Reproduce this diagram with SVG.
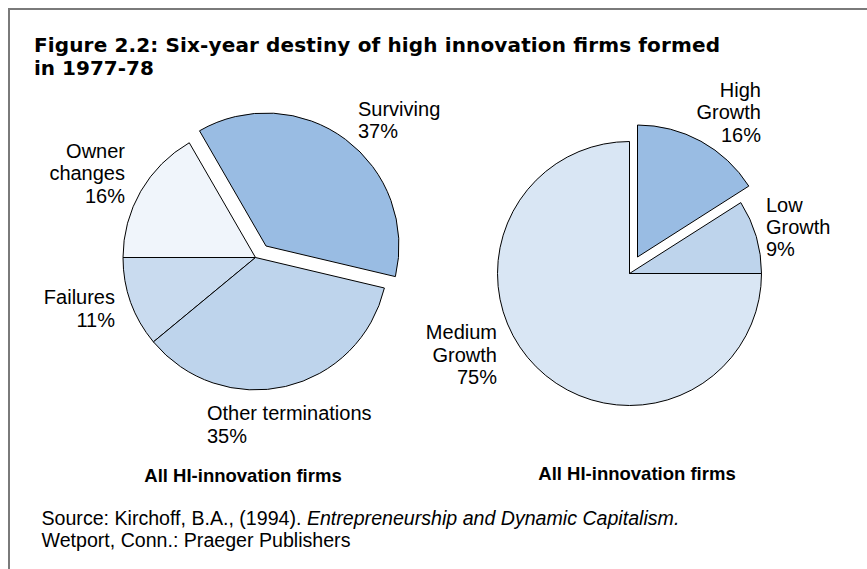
<svg xmlns="http://www.w3.org/2000/svg" width="867" height="569" viewBox="0 0 867 569">
<style>
.slice{stroke:#000;stroke-width:1;stroke-linejoin:miter}
.lbl{font-family:"Liberation Sans",Arial,sans-serif;font-size:20px;fill:#000}
.end{text-anchor:end}
.cap{font-family:"Liberation Sans",Arial,sans-serif;font-size:18.5px;font-weight:bold;fill:#000;text-anchor:middle}
.title{font-family:"DejaVu Sans",Verdana,sans-serif;font-size:20px;font-weight:bold;fill:#000}
.src{font-family:"Liberation Sans",Arial,sans-serif;font-size:19.6px;fill:#000}
.frame{stroke:#7a7a7a;stroke-width:2;fill:none}
</style>
<rect width="867" height="569" fill="#fff"/>
<path class="frame" d="M9,569 V9 H867"/>
<g id="title">
<text class="title" x="34" y="52" textLength="686" lengthAdjust="spacing">Figure 2.2: Six-year destiny of high innovation firms formed</text>
<text class="title" x="34" y="74.5">in 1977-78</text>
</g>
<g id="left-pie">
<g id="owner-changes">
<path class="slice" fill="#F0F5FB" d="M255.5,257.5 L123,257.5 A132.5,132.5 0 0 1 189.25,142.75 Z"/>
<text class="lbl end" x="125" y="158">Owner</text>
<text class="lbl end" x="125" y="180">changes</text>
<text class="lbl end" x="125" y="202.5">16%</text>
</g>
<g id="failures">
<path class="slice" fill="#C9DBEF" d="M255.5,257.5 L153.4,341.9 A132.5,132.5 0 0 1 123,257.5 Z"/>
<text class="lbl end" x="115" y="304">Failures</text>
<text class="lbl end" x="115" y="326.5">11%</text>
</g>
<g id="other-terminations">
<path class="slice" fill="#BED4EC" d="M255.5,257.5 L384.4,288 A132.5,132.5 0 0 1 153.4,341.9 Z"/>
<text class="lbl" x="207" y="420">Other terminations</text>
<text class="lbl" x="207" y="442.5">35%</text>
</g>
<g id="surviving">
<path class="slice" fill="#99BCE3" d="M266,246 L199.5,130.8 A133,133 0 0 1 395.4,276.6 Z"/>
<text class="lbl" x="358" y="116">Surviving</text>
<text class="lbl" x="358" y="138.3">37%</text>
</g>
<g id="left-caption">
<text class="cap" x="243" y="481.5">All HI-innovation firms</text>
</g>
</g>
<g id="right-pie">
<g id="medium-growth">
<path class="slice" fill="#D9E6F4" d="M629.5,273.5 L761.5,273.5 A132,132 0 1 1 629.5,141.5 Z"/>
<text class="lbl end" x="497" y="339.3">Medium</text>
<text class="lbl end" x="497" y="362">Growth</text>
<text class="lbl end" x="497" y="384">75%</text>
</g>
<g id="low-growth">
<path class="slice" fill="#BED4EC" d="M629.5,273.5 L740.8,202.6 A132,132 0 0 1 761.5,273.5 Z"/>
<text class="lbl" x="766" y="211.7">Low</text>
<text class="lbl" x="766" y="234">Growth</text>
<text class="lbl" x="766" y="256">9%</text>
</g>
<g id="high-growth">
<path class="slice" fill="#99BCE3" d="M637.5,257 L637.5,125 A132,132 0 0 1 748.8,186.1 Z"/>
<text class="lbl end" x="761" y="96.7">High</text>
<text class="lbl end" x="761" y="119.3">Growth</text>
<text class="lbl end" x="761" y="141.7">16%</text>
</g>
<g id="right-caption">
<text class="cap" x="637" y="480">All HI-innovation firms</text>
</g>
</g>
<g id="connectors"></g>
<g id="source">
<text class="src" x="41.5" y="525">Source: Kirchoff, B.A., (1994). <tspan font-style="italic">Entrepreneurship and Dynamic Capitalism.</tspan></text>
<text class="src" x="41.5" y="546.7">Wetport, Conn.: Praeger Publishers</text>
</g>
</svg>
